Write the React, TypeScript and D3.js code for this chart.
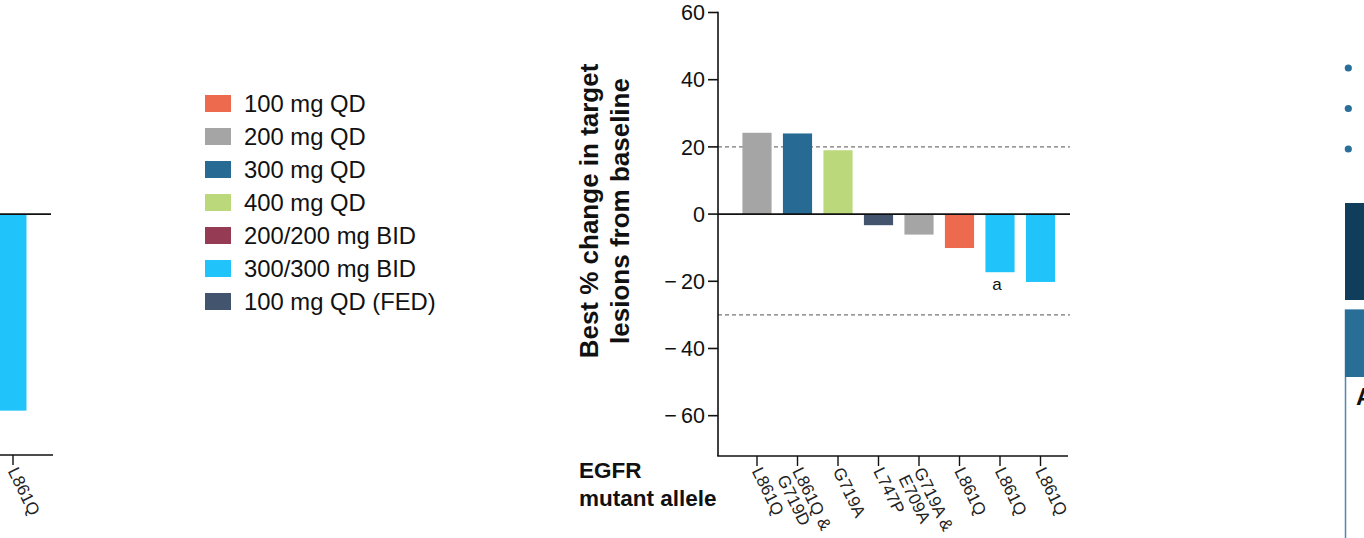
import React from 'react';
import * as d3 from 'd3';

// ---- data ----
const alleles = ['L861Q', 'L861Q & G719D', 'G719A', 'L747P', 'G719A & E709A', 'L861Q', 'L861Q', 'L861Q'];
const bestChange = [24.2, 24, 19, -3.3, -6.1, -10.1, -17.3, -20.2];
const doseGroup = ['200 mg QD', '300 mg QD', '400 mg QD', '100 mg QD (FED)', '200 mg QD', '100 mg QD', '300/300 mg BID', '300/300 mg BID'];
const footnotes = ['', '', '', '', '', '', 'a', ''];

const leftAlleles = ['L861Q'];
const leftChange = [-58.5];
const leftDose = ['300/300 mg BID'];

const legendLabels = ['100 mg QD', '200 mg QD', '300 mg QD', '400 mg QD', '200/200 mg BID', '300/300 mg BID', '100 mg QD (FED)'];
const legendColors = ['#ED6A4F', '#A5A5A5', '#276B95', '#BBD97B', '#953B53', '#20C4FB', '#42546E'];

const yTicks = [60, 40, 20, 0, -20, -40, -60];
const refLines = [20, -30];

const FONT = '"Liberation Sans", Arial, Helvetica, sans-serif';

const color = d3.scaleOrdinal<string, string>().domain(legendLabels).range(legendColors);

function labelLines(s: string): string[] {
  const parts = s.split(' & ');
  if (parts.length === 1) return parts;
  return [parts[0] + ' &', parts[1]];
}

function fmtTick(v: number): string {
  return v < 0 ? '\u2212\u2009' + Math.abs(v) : String(v);
}

export default function App() {
  const W = 1364;
  const H = 538;
  const axisX = 718;
  const axisRight = 1068;
  const y = d3.scaleLinear().domain([-72, 60]).range([456, 12.5]);
  const yBottom = y(-72);
  const x = d3
    .scaleBand<number>()
    .domain(d3.range(alleles.length))
    .range([736.75, 1060.75])
    .paddingInner(0.28)
    .paddingOuter(0.14);
  const xl = d3.scaleBand<number>().domain(d3.range(leftAlleles.length)).range([-2.5, 26.5]).padding(0);

  const tickLabel = (cx: number, lines: string[], key: string) => (
    <g key={key} transform={`translate(${cx + 3},${467}) rotate(64)`}>
      <text fontSize={17} fill="#222" fontFamily={FONT}>
        {lines.map((l, i) => (
          <tspan key={i} x={0} dy={i === 0 ? '0.55em' : '1.0em'}>
            {l}
          </tspan>
        ))}
      </text>
    </g>
  );

  return (
    <svg
      width={W}
      height={H}
      viewBox={`0 0 ${W} ${H}`}
      style={{ position: 'absolute', left: 0, top: 0, display: 'block', background: '#fff' }}
    >
      <rect x={0} y={0} width={W} height={H} fill="#fff" />

      {/* left partial chart */}
      <g>
        {leftChange.map((v, i) => (
          <rect
            key={i}
            x={xl(i)!}
            width={xl.bandwidth()}
            y={Math.min(y(0), y(v))}
            height={Math.abs(y(v) - y(0))}
            fill={color(leftDose[i])}
          />
        ))}
        <line x1={0} x2={51} y1={y(0)} y2={y(0)} stroke="#111" strokeWidth={1.6} />
        <line x1={0} x2={53} y1={yBottom - 1} y2={yBottom - 1} stroke="#111" strokeWidth={1.6} />
        {leftAlleles.map((a, i) => {
          const cx = xl(i)! + xl.bandwidth() / 2 + 1;
          return (
            <g key={i}>
              <line x1={cx} x2={cx} y1={yBottom - 1} y2={yBottom + 9} stroke="#111" strokeWidth={1.4} />
              {tickLabel(cx, labelLines(a), 'l' + i)}
            </g>
          );
        })}
      </g>

      {/* legend */}
      <g fontFamily={FONT}>
        {legendLabels.map((l, i) => (
          <g key={l} transform={`translate(205,${95 + i * 33})`}>
            <rect x={0} y={0} width={26} height={17} fill={legendColors[i]} />
            <text x={39} y={17} fontSize={23.8} fill="#111">
              {l}
            </text>
          </g>
        ))}
      </g>

      {/* main chart */}
      <g fontFamily={FONT}>
        {refLines.map((r) => (
          <line
            key={r}
            x1={axisX}
            x2={1070}
            y1={y(r)}
            y2={y(r)}
            stroke="#777"
            strokeWidth={1.2}
            strokeDasharray="4,3"
          />
        ))}
        {bestChange.map((v, i) => (
          <rect
            key={i}
            x={x(i)!}
            width={x.bandwidth()}
            y={Math.min(y(0), y(v))}
            height={Math.abs(y(v) - y(0))}
            fill={color(doseGroup[i])}
          />
        ))}
        {footnotes.map((f, i) =>
          f ? (
            <text
              key={i}
              x={x(i)! + x.bandwidth() / 2 - 3}
              y={y(bestChange[i]) + 18}
              fontSize={17}
              textAnchor="middle"
              fill="#111"
            >
              {f}
            </text>
          ) : null
        )}
        <line x1={axisX} x2={1070} y1={y(0)} y2={y(0)} stroke="#111" strokeWidth={1.8} />

        {/* y axis */}
        <line x1={axisX} x2={axisX} y1={y(60) - 0.8} y2={yBottom} stroke="#111" strokeWidth={1.6} />
        {yTicks.map((t) => (
          <g key={t}>
            <line x1={axisX - 10} x2={axisX} y1={y(t)} y2={y(t)} stroke="#111" strokeWidth={1.6} />
            <text x={axisX - 13} y={y(t)} dy="0.36em" textAnchor="end" fontSize={21.5} fill="#111">
              {fmtTick(t)}
            </text>
          </g>
        ))}

        {/* x axis */}
        <line x1={axisX - 0.8} x2={axisRight} y1={yBottom} y2={yBottom} stroke="#111" strokeWidth={1.6} />
        {alleles.map((a, i) => {
          const cx = x(i)! + x.bandwidth() / 2;
          return (
            <g key={i}>
              <line x1={cx} x2={cx} y1={yBottom} y2={yBottom + 10} stroke="#111" strokeWidth={1.4} />
              {tickLabel(cx, labelLines(a), 'm' + i)}
            </g>
          );
        })}

        {/* axis titles */}
        <text transform="translate(598,211) rotate(-90)" textAnchor="middle" fontSize={26} fontWeight="bold" fill="#111">
          Best % change in target
        </text>
        <text transform="translate(629,211) rotate(-90)" textAnchor="middle" fontSize={26} fontWeight="bold" fill="#111">
          lesions from baseline
        </text>
        <text x={579} y={478} fontSize={22.5} fontWeight="bold" fill="#111">
          EGFR
        </text>
        <text x={579} y={506} fontSize={22.5} fontWeight="bold" fill="#111">
          mutant allele
        </text>
      </g>

      {/* right-hand slide fragments */}
      <g>
        {[68, 108.5, 149].map((cy) => (
          <circle key={cy} cx={1348.3} cy={cy} r={3.6} fill="#2A6E9A" />
        ))}
        <rect x={1345} y={203} width={30} height={97} fill="#0F3D5B" />
        <rect x={1345.5} y={310} width={30} height={250} fill="#fff" stroke="#4F87B2" strokeWidth={1.5} />
        <rect x={1345} y={310} width={30} height={67} fill="#286E96" />
        <text x={1356} y={405} fontSize={24} fontWeight="bold" fill="#111" fontFamily={FONT}>
          A
        </text>
      </g>
    </svg>
  );
}
